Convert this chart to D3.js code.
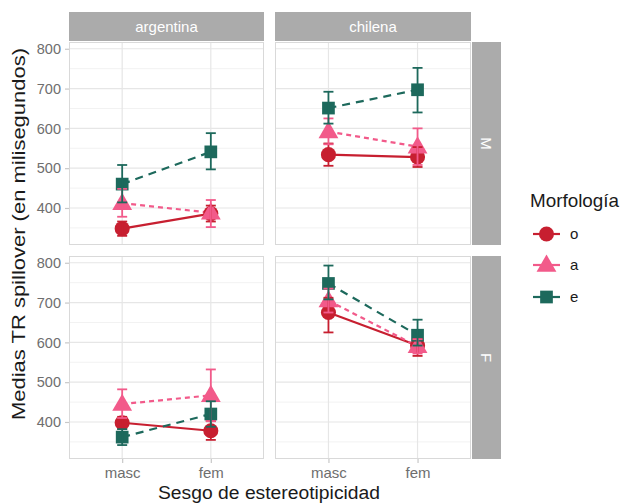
<!DOCTYPE html>
<html><head><meta charset="utf-8">
<script src="https://cdn.jsdelivr.net/npm/d3@7"></script>
<style>body{margin:0;background:#fff}svg{display:block;font-family:"Liberation Sans",Arial,sans-serif}</style>
</head><body><div id="chart"></div>
<script>
// ---- data ----
const categories = ["masc", "fem"];
const nationalities = ["argentina", "chilena"];
const genders = ["M", "F"];
const morphologies = ["o", "a", "e"];
const yTicks = [400, 500, 600, 700, 800];
// order of each array: argentina-M (masc, fem), chilena-M (masc, fem), argentina-F (masc, fem), chilena-F (masc, fem)
const meanO = [348, 386, 534, 528, 398, 378, 675, 592];
const lowO  = [330, 366, 506, 503, 383, 355, 625, 566];
const highO = [366, 406, 562, 553, 413, 402, 712, 608];
const meanA = [412, 388, 592, 554, 445, 467, 705, 590];
const lowA  = [378, 352, 560, 508, 410, 402, 675, 572];
const highA = [448, 420, 625, 600, 482, 532, 735, 608];
const meanE = [460, 541, 651, 697, 362, 420, 748, 618];
const lowE  = [414, 497, 612, 640, 342, 388, 708, 592];
const highE = [508, 588, 692, 752, 382, 452, 793, 657];
const colors = {o: "#C71F30", a: "#F25A8A", e: "#1D695C"};
const dashes = {o: null, a: "5,4", e: "8,6"};

const series = {o: [meanO, lowO, highO], a: [meanA, lowA, highA], e: [meanE, lowE, highE]};
const rows = [];
genders.forEach((g, gi) => nationalities.forEach((n, ni) => categories.forEach((c, ci) => {
  const idx = gi * 4 + ni * 2 + ci;
  morphologies.forEach(m => rows.push({g, n, c, m, mean: series[m][0][idx], lo: series[m][1][idx], hi: series[m][2][idx]}));
})));

// ---- layout ----
const W = 623, H = 504;
const svg = d3.select("#chart").append("svg").attr("width", W).attr("height", H);
const panelX = {argentina: [69, 264], chilena: [275, 471]};
const panelY = {M: [42, 245], F: [256, 459]};
const stripTop = [12, 41];
const stripRight = [472, 501];

const y = {};
genders.forEach(g => { y[g] = d3.scaleLinear().domain([307, 817]).range([panelY[g][1], panelY[g][0]]); });
// discrete expansion 0.6 like ggplot
const x = {};
nationalities.forEach(n => {
  const [a, b] = panelX[n];
  const step = (b - a) / 2.2;
  x[n] = d3.scalePoint().domain(categories).range([a + 0.6 * step, b - 0.6 * step]);
});

function shape(m, size) {
  if (m === "o") return d3.symbol().type(d3.symbolCircle).size(size * 1.05)();
  if (m === "a") return d3.symbol().type(d3.symbolTriangle).size(size * 1.0)();
  return d3.symbol().type(d3.symbolSquare).size(size * 0.95)();
}

genders.forEach(g => nationalities.forEach(n => {
  const [x0, x1] = panelX[n], [y0, y1] = panelY[g];
  const p = svg.append("g");
  p.append("rect").attr("x", x0).attr("y", y0).attr("width", x1 - x0).attr("height", y1 - y0).attr("fill", "#fff");
  const minor = d3.range(350, 817, 100);
  p.selectAll(".mn").data(minor).enter().append("line")
    .attr("x1", x0).attr("x2", x1).attr("y1", d => y[g](d)).attr("y2", d => y[g](d))
    .attr("stroke", "#F2F2F2").attr("stroke-width", 1);
  p.selectAll(".mj").data(yTicks).enter().append("line")
    .attr("x1", x0).attr("x2", x1).attr("y1", d => y[g](d)).attr("y2", d => y[g](d))
    .attr("stroke", "#E6E6E6").attr("stroke-width", 1.2);
  p.selectAll(".vx").data(categories).enter().append("line")
    .attr("x1", d => x[n](d)).attr("x2", d => x[n](d)).attr("y1", y0).attr("y2", y1)
    .attr("stroke", "#E6E6E6").attr("stroke-width", 1.2);

  const sub = rows.filter(r => r.g === g && r.n === n);
  morphologies.forEach(m => {
    const d = sub.filter(r => r.m === m);
    p.append("path").datum(d)
      .attr("d", d3.line().x(r => x[n](r.c)).y(r => y[g](r.mean)))
      .attr("fill", "none").attr("stroke", colors[m]).attr("stroke-width", 2.2)
      .attr("stroke-dasharray", dashes[m]);
  });
  morphologies.forEach(m => {
    const d = sub.filter(r => r.m === m);
    p.selectAll(".pt" + m).data(d).enter().append("path")
      .attr("transform", r => `translate(${x[n](r.c)},${y[g](r.mean) + (m === "a" ? 1 : 0)})`)
      .attr("d", shape(m, 170)).attr("fill", colors[m]);
  });
  morphologies.forEach(m => {
    const d = sub.filter(r => r.m === m);
    const eb = p.selectAll(".eb" + m).data(d).enter().append("g").attr("stroke", colors[m]).attr("stroke-width", 1.8);
    eb.append("line").attr("x1", r => x[n](r.c)).attr("x2", r => x[n](r.c)).attr("y1", r => y[g](r.lo)).attr("y2", r => y[g](r.hi));
    eb.append("line").attr("x1", r => x[n](r.c) - 5).attr("x2", r => x[n](r.c) + 5).attr("y1", r => y[g](r.lo)).attr("y2", r => y[g](r.lo));
    eb.append("line").attr("x1", r => x[n](r.c) - 5).attr("x2", r => x[n](r.c) + 5).attr("y1", r => y[g](r.hi)).attr("y2", r => y[g](r.hi));
  });
  p.append("rect").attr("x", x0 + 0.5).attr("y", y0 + 0.5).attr("width", x1 - x0 - 1).attr("height", y1 - y0 - 1)
    .attr("fill", "none").attr("stroke", "#D9D9D9").attr("stroke-width", 1);
}));

// strips
nationalities.forEach(n => {
  const [x0, x1] = panelX[n];
  svg.append("rect").attr("x", x0).attr("y", stripTop[0]).attr("width", x1 - x0).attr("height", stripTop[1] - stripTop[0]).attr("fill", "#ABABAB");
  svg.append("text").attr("x", (x0 + x1) / 2).attr("y", (stripTop[0] + stripTop[1]) / 2 + 5.5)
    .attr("text-anchor", "middle").attr("fill", "#fff").attr("font-size", 15).text(n);
});
genders.forEach(g => {
  const [y0, y1] = panelY[g];
  svg.append("rect").attr("x", stripRight[0]).attr("y", y0).attr("width", stripRight[1] - stripRight[0]).attr("height", y1 - y0).attr("fill", "#ABABAB");
  const cx = (stripRight[0] + stripRight[1]) / 2, cy = (y0 + y1) / 2;
  svg.append("text").attr("transform", `translate(${cx - 5.5},${cy}) rotate(90)`)
    .attr("text-anchor", "middle").attr("fill", "#fff").attr("font-size", 15).text(g);
});

// y axes
genders.forEach(g => {
  const ax = svg.append("g").attr("transform", `translate(${panelX.argentina[0]},0)`)
    .call(d3.axisLeft(y[g]).tickValues(yTicks).tickSize(4).tickPadding(4));
  ax.select(".domain").remove();
  ax.selectAll(".tick line").attr("stroke", "#C8C8C8").attr("stroke-width", 1.2);
  ax.selectAll("text").attr("fill", "#6E6E6E").attr("font-size", 14.5).attr("font-family", "Liberation Sans, Arial, sans-serif");
});
// x axes
nationalities.forEach(n => {
  const ax = svg.append("g").attr("transform", `translate(0,${panelY.F[1]})`)
    .call(d3.axisBottom(x[n]).tickSize(4).tickPadding(4));
  ax.select(".domain").remove();
  ax.selectAll(".tick line").attr("stroke", "#C8C8C8").attr("stroke-width", 1.2);
  ax.selectAll("text").attr("fill", "#6E6E6E").attr("font-size", 15).attr("font-family", "Liberation Sans, Arial, sans-serif");
});

// axis titles
svg.append("text").attr("x", 269).attr("y", 498.5).attr("text-anchor", "middle").attr("font-size", 18)
  .attr("textLength", 222).attr("lengthAdjust", "spacingAndGlyphs").attr("fill", "#1a1a1a").text("Sesgo de estereotipicidad");
svg.append("text").attr("transform", "translate(25,234) rotate(-90)").attr("text-anchor", "middle").attr("font-size", 18.5)
  .attr("textLength", 372).attr("lengthAdjust", "spacingAndGlyphs").attr("fill", "#1a1a1a").text("Medias TR spillover (en milisegundos)");

// legend
svg.append("text").attr("x", 530).attr("y", 207).attr("font-size", 18.5).attr("textLength", 89).attr("lengthAdjust", "spacingAndGlyphs")
  .attr("fill", "#1a1a1a").text("Morfología");
const legY = [234, 265, 297];
morphologies.forEach((m, i) => {
  const gl = svg.append("g");
  gl.append("line").attr("x1", 533).attr("x2", 560).attr("y1", legY[i]).attr("y2", legY[i]).attr("stroke", colors[m]).attr("stroke-width", 2.2);
  gl.append("path").attr("transform", `translate(546.5,${legY[i] + (m === "a" ? 1 : 0)})`).attr("d", shape(m, 170)).attr("fill", colors[m]);
  gl.append("text").attr("x", 570).attr("y", legY[i] + 5).attr("font-size", 15).attr("fill", "#1a1a1a").text(m);
});
</script></body></html>
